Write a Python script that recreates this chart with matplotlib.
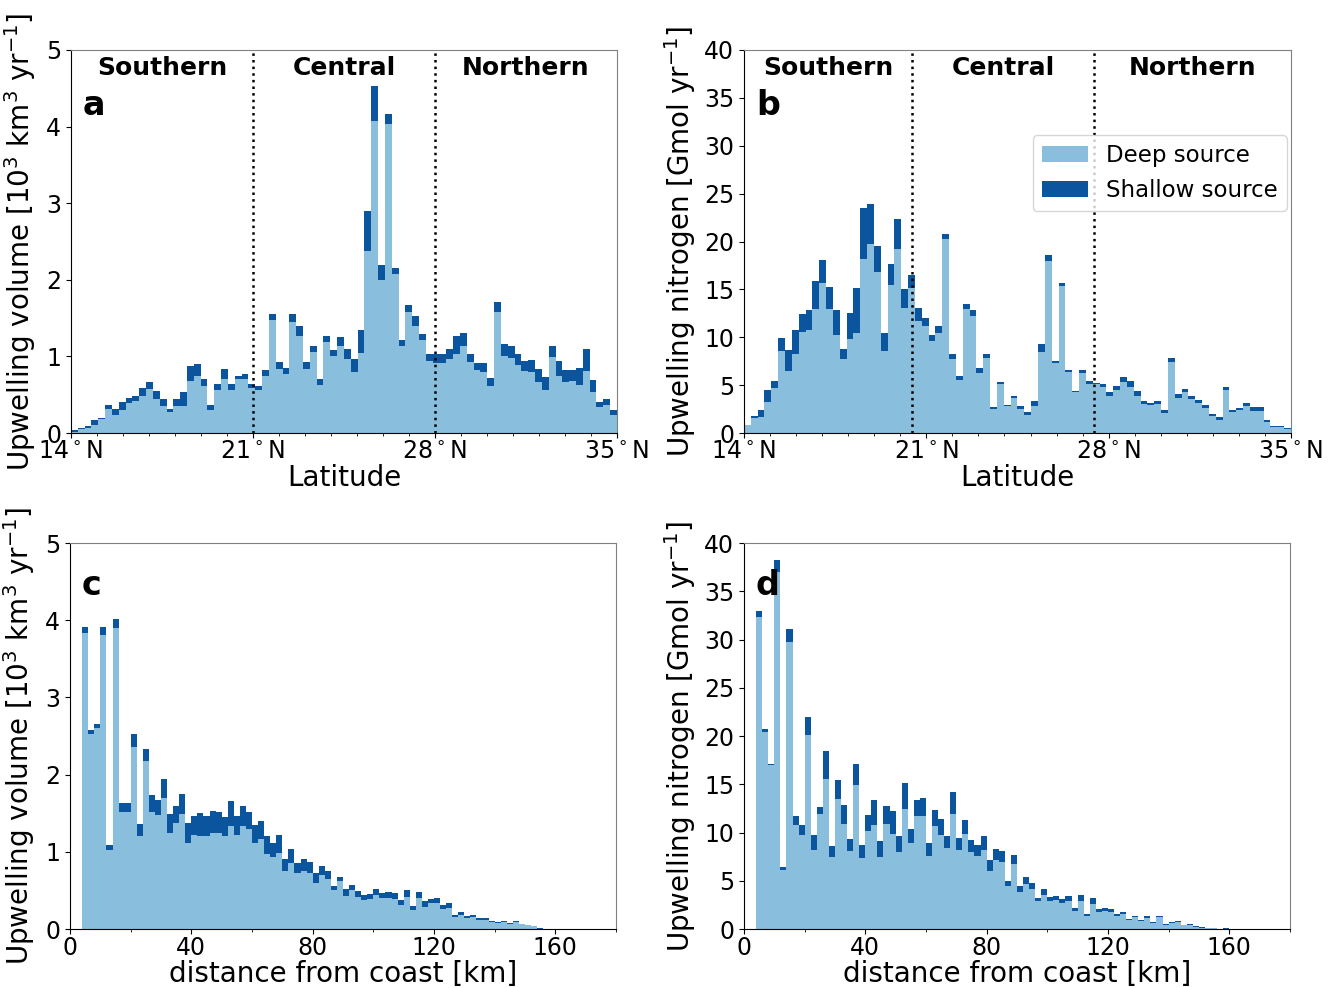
"""
Upwelling histograms: latitude (a, b) and distance from coast (c, d).
"""

import numpy as np
import matplotlib

matplotlib.use("Agg")
import matplotlib.pyplot as plt
from matplotlib.ticker import MultipleLocator

DEEP_COLOR = "#89bedc"
SHALLOW_COLOR = "#0b559f"

# latitude histogram, 80 bins between 14 and 35 N
lat_range = (14, 35)
lat_ticks = [14, 21, 28, 35]

vol_lat_total = [0.035, 0.06, 0.09, 0.165, 0.2, 0.37, 0.32, 0.40, 0.46, 0.49,
                 0.59, 0.67, 0.55, 0.45, 0.32, 0.45, 0.53, 0.88, 0.90, 0.71,
                 0.37, 0.64, 0.84, 0.64, 0.75, 0.77, 0.635, 0.61, 0.82, 1.56,
                 0.93, 0.85, 1.55, 1.40, 0.93, 1.13, 0.71, 1.27, 1.09, 1.26,
                 1.10, 0.96, 1.35, 2.90, 4.53, 2.19, 4.17, 2.16, 1.21, 1.67,
                 1.53, 1.29, 1.03, 1.03, 1.03, 1.10, 1.27, 1.31, 1.03, 0.91,
                 0.91, 0.72, 1.71, 1.16, 1.13, 1.03, 0.94, 0.95, 0.84, 0.73,
                 1.14, 0.94, 0.82, 0.82, 0.85, 1.10, 0.69, 0.41, 0.45, 0.30]
vol_lat_deep = [0.02, 0.05, 0.06, 0.11, 0.18, 0.32, 0.235, 0.30, 0.39, 0.42,
                0.48, 0.58, 0.45, 0.35, 0.27, 0.35, 0.35, 0.68, 0.74, 0.61,
                0.30, 0.56, 0.71, 0.56, 0.70, 0.70, 0.59, 0.56, 0.74, 1.48,
                0.84, 0.77, 1.45, 1.27, 0.84, 1.06, 0.63, 1.19, 1.00, 1.13,
                0.97, 0.80, 1.05, 2.37, 4.07, 2.00, 4.04, 2.08, 1.13, 1.58,
                1.40, 1.21, 0.94, 0.92, 0.92, 0.96, 1.03, 1.14, 0.93, 0.82,
                0.80, 0.61, 1.58, 1.00, 0.98, 0.89, 0.81, 0.80, 0.67, 0.56,
                0.99, 0.75, 0.66, 0.68, 0.63, 0.81, 0.53, 0.34, 0.37, 0.24]

nit_lat_total = [0.87, 1.8, 2.43, 4.5, 5.45, 9.9, 8.7, 10.76, 12.4, 12.8,
                 15.9, 18.05, 15.2, 12.85, 8.75, 12.5, 15.1, 23.5, 23.9, 19.5,
                 10.4, 17.6, 22.4, 15.03, 16.5, 13.1, 12.0, 10.24, 11.2, 20.76,
                 8.23, 5.97, 13.47, 12.85, 6.77, 8.26, 2.7, 5.38, 2.95, 3.9,
                 2.78, 2.15, 3.3, 9.3, 18.6, 7.53, 15.7, 6.6, 4.34, 6.6,
                 5.45, 5.2, 5.1, 4.24, 4.93, 5.9, 5.45, 4.34, 3.3, 3.13,
                 3.3, 2.36, 7.88, 4.1, 4.62, 3.9, 3.47, 2.88, 2.0, 1.63,
                 4.76, 2.43, 2.6, 3.13, 2.67, 2.7, 1.39, 0.69, 0.69, 0.49]
nit_lat_deep = [0.8, 1.53, 1.63, 3.2, 4.69, 8.6, 6.5, 8.23, 10.5, 10.76,
                12.95, 15.7, 12.95, 10.24, 7.7, 9.83, 10.4, 18.2, 19.7, 16.84,
                8.6, 15.45, 19.2, 13.1, 15.1, 11.7, 11.2, 9.65, 10.4, 20.24,
                7.74, 5.56, 12.95, 12.2, 6.3, 7.8, 2.53, 5.14, 2.78, 3.65,
                2.5, 1.9, 2.78, 8.44, 18.0, 7.3, 15.4, 6.35, 4.24, 6.32,
                5.1, 5.1, 4.86, 3.92, 4.5, 5.38, 4.76, 3.9, 3.06, 2.95,
                3.02, 2.08, 7.46, 3.7, 4.24, 3.58, 3.13, 2.6, 1.74, 1.39,
                4.51, 2.19, 2.36, 2.78, 2.26, 2.26, 1.11, 0.59, 0.59, 0.42]

# distance histogram, 2 km bins from 4 to 160 km
dist_start, dist_step = 4, 2
dist_ticks = [0, 40, 80, 120, 160]

vol_dist_total = [3.91, 2.58, 2.66, 3.91, 1.09, 4.02, 1.63, 1.63, 2.53, 1.36,
                  2.33, 1.73, 1.67, 1.94, 1.49, 1.59, 1.75, 1.37, 1.47, 1.50,
                  1.47, 1.53, 1.52, 1.45, 1.66, 1.46, 1.59, 1.52, 1.35, 1.40,
                  1.20, 1.11, 1.22, 0.91, 1.03, 0.86, 0.91, 0.87, 0.72, 0.81,
                  0.75, 0.56, 0.68, 0.52, 0.57, 0.49, 0.44, 0.45, 0.52, 0.47,
                  0.48, 0.47, 0.37, 0.51, 0.30, 0.48, 0.36, 0.39, 0.40, 0.31,
                  0.34, 0.185, 0.22, 0.17, 0.185, 0.14, 0.14, 0.11, 0.095, 0.10,
                  0.078, 0.10, 0.069, 0.056, 0.043, 0.008, 0.005, 0.003]
vol_dist_deep = [3.84, 2.53, 2.61, 3.81, 1.02, 3.90, 1.51, 1.51, 2.36, 1.20,
                 2.18, 1.51, 1.48, 1.70, 1.25, 1.37, 1.49, 1.12, 1.22, 1.20,
                 1.20, 1.25, 1.25, 1.20, 1.34, 1.22, 1.33, 1.29, 1.12, 1.16,
                 0.97, 0.93, 0.99, 0.75, 0.86, 0.72, 0.75, 0.73, 0.59, 0.70,
                 0.65, 0.50, 0.62, 0.43, 0.50, 0.41, 0.37, 0.39, 0.44, 0.40,
                 0.40, 0.39, 0.31, 0.41, 0.25, 0.40, 0.29, 0.34, 0.34, 0.26,
                 0.27, 0.15, 0.185, 0.14, 0.15, 0.12, 0.12, 0.086, 0.078, 0.086,
                 0.065, 0.086, 0.06, 0.047, 0.034, 0.006, 0.004, 0.002]

nit_dist_total = [32.98, 20.7, 17.1, 38.26, 6.42, 31.1, 11.74, 10.8, 21.96, 9.7,
                  12.6, 18.47, 8.56, 15.47, 12.88, 9.36, 17.1, 8.74, 11.84, 13.4,
                  9.15, 12.78, 12.19, 9.6, 15.12, 10.4, 13.4, 13.57, 8.9, 12.36,
                  11.4, 9.67, 14.19, 9.43, 11.33, 9.25, 8.74, 9.67, 7.18, 8.29,
                  8.11, 5.0, 7.7, 4.49, 5.39, 4.77, 3.21, 4.14, 3.28, 3.38,
                  3.11, 3.38, 2.18, 3.49, 1.55, 3.21, 2.07, 2.18, 2.07, 1.55,
                  1.76, 1.07, 1.38, 0.97, 1.38, 0.69, 1.38, 0.55, 0.72, 0.86,
                  0.45, 0.55, 0.28, 0.17, 0.14, 0.12, 0.02, 0.12]
nit_dist_deep = [32.3, 20.4, 16.95, 37.0, 6.15, 29.7, 10.74, 9.7, 20.13, 8.15,
                 11.95, 15.57, 7.42, 13.5, 10.9, 8.05, 14.95, 7.35, 10.12, 10.8,
                 7.42, 10.9, 9.88, 7.94, 12.47, 8.9, 11.67, 11.67, 7.53, 10.64,
                 9.7, 8.39, 11.95, 8.15, 9.84, 7.94, 7.6, 8.22, 5.97, 7.11,
                 6.94, 4.42, 6.77, 3.8, 4.7, 4.18, 2.87, 3.49, 2.87, 3.04,
                 2.69, 2.87, 1.9, 2.87, 1.31, 2.62, 1.73, 1.83, 1.73, 1.31,
                 1.55, 0.9, 1.2, 0.86, 1.14, 0.59, 1.2, 0.45, 0.62, 0.72,
                 0.38, 0.45, 0.21, 0.1, 0.1, 0.08, 0.01, 0.05]

region_names = ["Southern", "Central", "Northern"]
region_bounds_a = [21, 28]
region_bounds_b = [20.45, 27.45]

VOL_LABEL = r"Upwelling volume [10$^3$ km$^3$ yr$^{-1}$]"
NIT_LABEL = r"Upwelling nitrogen [Gmol yr$^{-1}$]"

TICK_FS = 17
LABEL_FS = 20


def stacked(ax, left, width, deep, total):
    deep = np.asarray(deep)
    shallow = np.asarray(total) - deep
    ax.bar(left, deep, width=width, align="edge", color=DEEP_COLOR,
           linewidth=0, label="Deep source")
    ax.bar(left, shallow, width=width, bottom=deep, align="edge",
           color=SHALLOW_COLOR, linewidth=0, label="Shallow source")


def style(ax, letter, ytop):
    for side in ["top", "right"]:
        ax.spines[side].set_color("#808080")
    ax.tick_params(axis="both", which="major", labelsize=TICK_FS)
    ax.tick_params(axis="x", which="major", pad=1.5)
    ax.text(0.022, ytop, letter, transform=ax.transAxes, fontsize=24,
            fontweight="bold", va="top", ha="left")


def regions(ax, bounds):
    lo, hi = lat_range
    edges = [lo] + bounds + [hi]
    for b in bounds:
        ax.axvline(b, color="black", linestyle=":", linewidth=1.8)
    for name, x0, x1 in zip(region_names, edges[:-1], edges[1:]):
        ax.text((x0 + x1) / 2, 0.953, name, transform=ax.get_xaxis_transform(),
                ha="center", va="center", fontsize=18, fontweight="bold")


fig = plt.figure(figsize=(13.29, 9.88), dpi=100)
ax_a = fig.add_axes([0.0534, 0.5617, 0.4108, 0.3877])
ax_b = fig.add_axes([0.5598, 0.5617, 0.4116, 0.3877])
ax_c = fig.add_axes([0.0527, 0.0597, 0.4108, 0.3907])
ax_d = fig.add_axes([0.5598, 0.0597, 0.4108, 0.3907])

lat_edges = np.linspace(lat_range[0], lat_range[1], len(vol_lat_total) + 1)
lat_w = lat_edges[1] - lat_edges[0]
dist_left = dist_start + dist_step * np.arange(len(vol_dist_total))

stacked(ax_a, lat_edges[:-1], lat_w, vol_lat_deep, vol_lat_total)
stacked(ax_b, lat_edges[:-1], lat_w, nit_lat_deep, nit_lat_total)
stacked(ax_c, dist_left, dist_step, vol_dist_deep, vol_dist_total)
stacked(ax_d, dist_left, dist_step, nit_dist_deep, nit_dist_total)

for ax, bounds in [(ax_a, region_bounds_a), (ax_b, region_bounds_b)]:
    ax.set_xlim(*lat_range)
    ax.set_xticks(lat_ticks)
    ax.set_xticklabels([f"{t}$^\\circ$N" for t in lat_ticks])
    ax.xaxis.set_minor_locator(MultipleLocator(1))
    ax.set_xlabel("Latitude", fontsize=LABEL_FS, labelpad=0)
    regions(ax, bounds)

for ax in [ax_c, ax_d]:
    ax.set_xlim(0, 180)
    ax.set_xticks(dist_ticks)
    ax.xaxis.set_minor_locator(MultipleLocator(20))
    ax.set_xlabel("distance from coast [km]", fontsize=LABEL_FS, labelpad=0)

for ax in [ax_a, ax_c]:
    ax.set_ylim(0, 5)
    ax.set_yticks(range(0, 6))
    ax.set_ylabel(VOL_LABEL, fontsize=LABEL_FS, labelpad=6)

for ax in [ax_b, ax_d]:
    ax.set_ylim(0, 40)
    ax.set_yticks(range(0, 41, 5))
    ax.set_ylabel(NIT_LABEL, fontsize=LABEL_FS, labelpad=4)

for ax, letter, ytop in zip([ax_a, ax_b, ax_c, ax_d], "abcd",
                            [0.898, 0.898, 0.932, 0.932]):
    style(ax, letter, ytop)

ax_b.legend(loc="upper right", bbox_to_anchor=(0.9927, 0.778),
            borderaxespad=0, fontsize=16.5)

fig.savefig("out.png", dpi=100)
plt.close(fig)
